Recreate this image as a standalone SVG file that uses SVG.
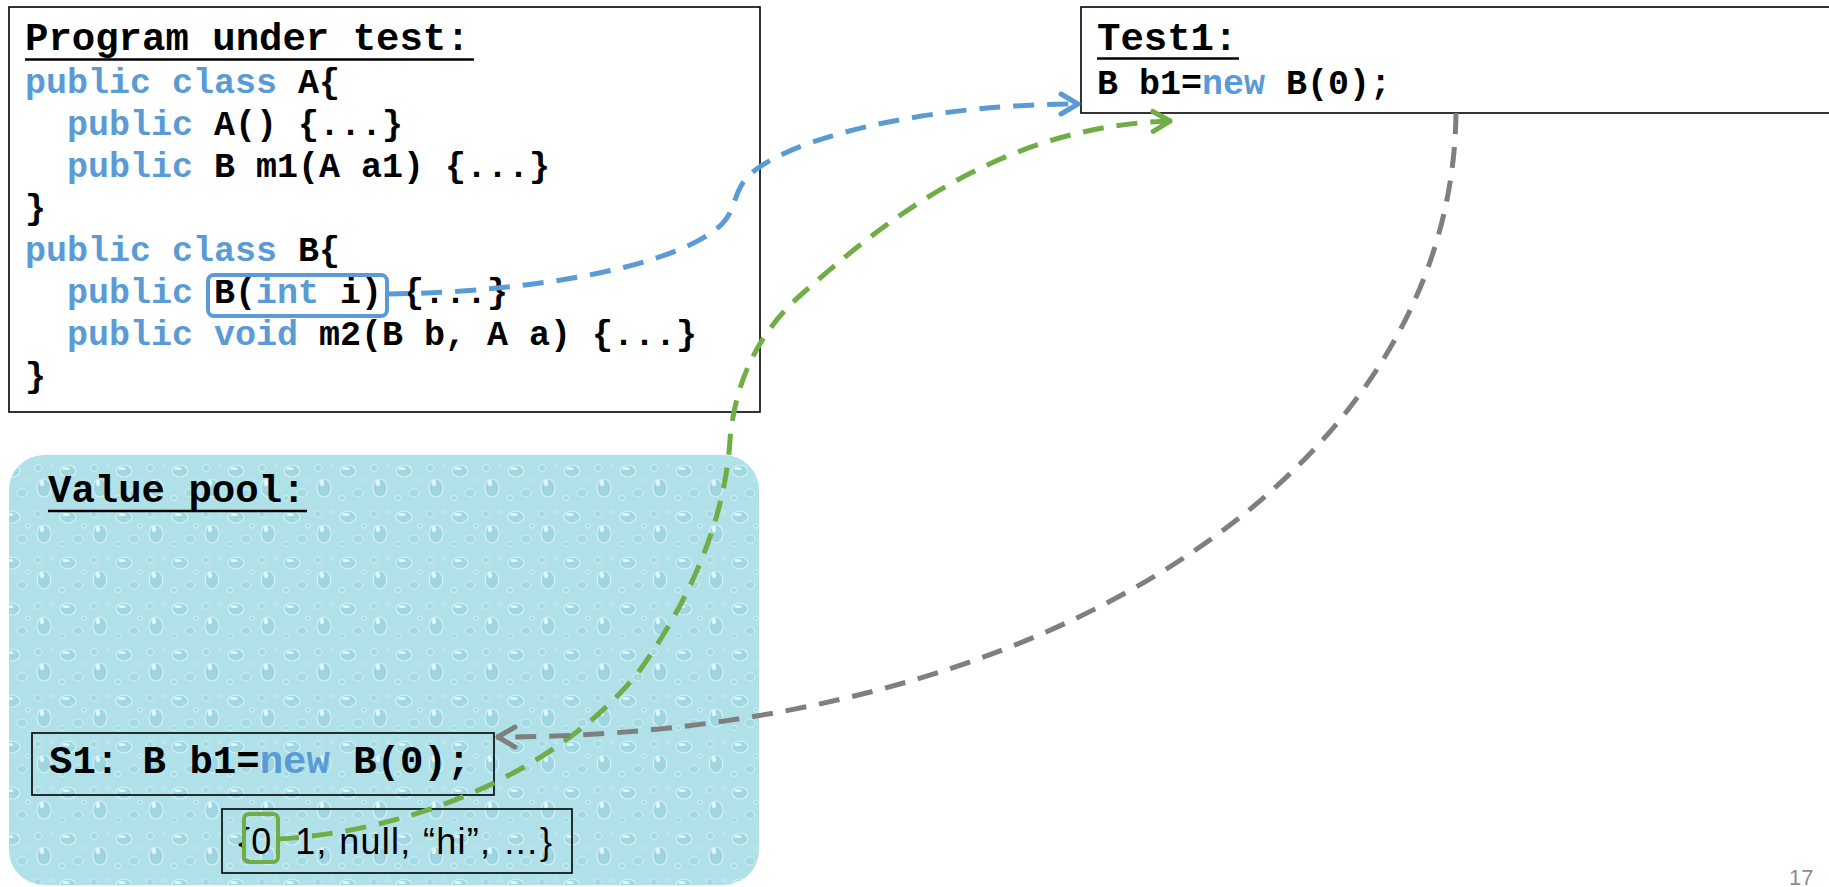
<svg xmlns="http://www.w3.org/2000/svg" width="1829" height="887" viewBox="0 0 1829 887">
<style>
.code{font-family:"Liberation Mono","Courier New",monospace;font-weight:bold;font-size:35px;fill:#000}
.title{font-family:"Liberation Mono","Courier New",monospace;font-weight:bold;font-size:39px;fill:#000}
.kw{fill:#5B9BD5}
.box{fill:none;stroke:#000;stroke-width:1.6}
.ul{stroke:#000;stroke-width:2.5}
.conn{fill:none;stroke-width:5;stroke-dasharray:21 13}
</style>
<defs>
<pattern id="drops" width="56" height="46" patternUnits="userSpaceOnUse">
<rect width="56" height="46" fill="#B0E1E9"/>
<ellipse cx="12" cy="11" rx="8" ry="6" fill="#A2D8E2" stroke="#D2F2F6" stroke-width="1.2"/>
<ellipse cx="10" cy="8.5" rx="3.5" ry="1.6" fill="#E2F7F9"/>
<ellipse cx="38" cy="8" rx="4" ry="3.5" fill="#A6DAE3" stroke="#CFF0F4" stroke-width="1"/>
<ellipse cx="44" cy="28" rx="7" ry="9" fill="#9FD6E1" stroke="#D2F2F6" stroke-width="1.2"/>
<ellipse cx="42" cy="23" rx="2" ry="3.2" fill="#E0F6F8"/>
<ellipse cx="22" cy="33" rx="5" ry="4" fill="#A6DAE3" stroke="#CFF0F4" stroke-width="1"/>
<ellipse cx="6" cy="38" rx="3" ry="2.5" fill="#A6DAE3" stroke="#CFF0F4" stroke-width="0.8"/>
<ellipse cx="28" cy="20" rx="2.5" ry="2" fill="#A8DBE4" stroke="#D4F3F6" stroke-width="0.8"/>
<ellipse cx="52" cy="6" rx="2" ry="1.6" fill="#A8DBE4" stroke="#D4F3F6" stroke-width="0.7"/>
</pattern>
<marker id="arB" markerUnits="userSpaceOnUse" markerWidth="40" markerHeight="40" viewBox="-25 -20 40 40" refX="0" refY="0" orient="auto" overflow="visible"><path d="M-19,-10 L-2,0 L-19,10" fill="none" stroke="#5B9BD5" stroke-width="5" stroke-linejoin="round" stroke-linecap="round"/></marker>
<marker id="arG" markerUnits="userSpaceOnUse" markerWidth="40" markerHeight="40" viewBox="-25 -20 40 40" refX="0" refY="0" orient="auto" overflow="visible"><path d="M-19,-10 L-2,0 L-19,10" fill="none" stroke="#70AD47" stroke-width="5" stroke-linejoin="round" stroke-linecap="round"/></marker>
<marker id="arY" markerUnits="userSpaceOnUse" markerWidth="40" markerHeight="40" viewBox="-25 -20 40 40" refX="0" refY="0" orient="auto" overflow="visible"><path d="M-19,-10 L-2,0 L-19,10" fill="none" stroke="#7F7F7F" stroke-width="5" stroke-linejoin="round" stroke-linecap="round"/></marker>
</defs>
<rect width="1829" height="887" fill="#fff"/>

<g id="value-pool">
<rect x="9" y="455" width="750" height="430" rx="35" fill="url(#drops)"/>
<text class="title" x="48" y="502">Value pool:</text>
<line class="ul" x1="48" y1="511" x2="307" y2="511"/>
</g>

<g id="program">
<rect class="box" x="9" y="7" width="751" height="405" fill="#fff"/>
<text class="title" x="25" y="50">Program under test:</text>
<line class="ul" x1="25" y1="59.5" x2="474" y2="59.5"/>
<text class="code" x="25" y="93"><tspan class="kw">public class</tspan> A{</text>
<text class="code" x="67" y="135"><tspan class="kw">public</tspan> A() {...}</text>
<text class="code" x="67" y="177"><tspan class="kw">public</tspan> B m1(A a1) {...}</text>
<text class="code" x="25" y="219">}</text>
<text class="code" x="25" y="261"><tspan class="kw">public class</tspan> B{</text>
<text class="code" x="67" y="303"><tspan class="kw">public</tspan> B(<tspan class="kw">int</tspan> i) {...}</text>
<text class="code" x="67" y="345"><tspan class="kw">public void</tspan> m2(B b, A a) {...}</text>
<text class="code" x="25" y="387">}</text>
<rect x="208" y="275" width="179" height="41" rx="6" fill="none" stroke="#5B9BD5" stroke-width="4"/>
</g>

<g id="test1">
<rect class="box" x="1081" y="7" width="760" height="106" fill="#fff"/>
<text class="title" x="1097" y="50">Test1:</text>
<line class="ul" x1="1097" y1="58.5" x2="1239" y2="58.5"/>
<text class="code" x="1097" y="94">B b1=<tspan class="kw">new</tspan> B(0);</text>
</g>

<g id="s1">
<rect class="box" x="32" y="733" width="462" height="62"/>
<text class="title" x="49" y="773">S1: B b1=<tspan class="kw">new</tspan> B(0);</text>
</g>

<g id="values">
<rect class="box" x="222" y="809" width="350" height="64"/>
<text x="238" y="854" font-family="Liberation Sans, Arial, sans-serif" font-size="36" fill="#000" textLength="314" lengthAdjust="spacing">{0, 1, null, “hi”, …}</text>
<rect x="244" y="814" width="34" height="48" rx="5" fill="none" stroke="#70AD47" stroke-width="4"/>
</g>

<g id="connectors">
<path class="conn" stroke="#5B9BD5" d="M 387 294 C 540 292, 680 265, 722 224 C 740 205, 730 188, 758 168 C 810 132, 940 104, 1080 104" marker-end="url(#arB)"/>
<path class="conn" stroke="#70AD47" d="M 278 839 C 430 830, 570 760, 640 670 C 690 600, 725 520, 730 440 C 735 380, 760 330, 803 293 C 880 225, 1000 125, 1172 121" marker-end="url(#arG)"/>
<path class="conn" stroke="#7F7F7F" d="M 1456 113 C 1452 470, 1050 737, 496 737" marker-end="url(#arY)"/>
</g>

<text x="1789" y="885" font-family="Liberation Sans, Arial, sans-serif" font-size="22" fill="#8C8C8C">17</text>
</svg>
